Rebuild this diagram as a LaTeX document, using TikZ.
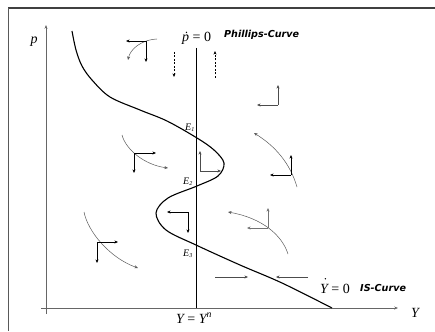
\documentclass[tikz,border=0pt]{standalone}
\usepackage{fontspec}
\setmainfont{Liberation Serif}
\newfontfamily\verd{DejaVu Sans}
\usetikzlibrary{arrows.meta}
\begin{document}
\begin{tikzpicture}[x=1pt,y=-1pt,
  pa/.style={-{Stealth[length=3.6pt,width=3pt]}, line width=0.5pt},
  dpa/.style={pa, dashed, dash pattern=on 2pt off 1.5pt},
  arcline/.style={line width=0.45pt, draw=black!65},
  axis/.style={line width=0.7pt, draw=black!60, -{Stealth[length=3.8pt,width=3pt]}},
  lbl/.style={inner sep=0pt, anchor=base, font=\fontsize{14}{16}\selectfont},
  lblw/.style={lbl, anchor=base west},
  elbl/.style={inner sep=0pt, anchor=base west, font=\fontsize{10}{12}\selectfont\itshape},
  curvelbl/.style={inner sep=0pt, anchor=base west, font=\fontsize{9.6}{11}\selectfont\verd\bfseries\itshape}]
\useasboundingbox (0,0) rectangle (435,331);
% frame
\draw[line width=1.3pt, draw=black!75] (8,8) -- (435,8);
\draw[line width=0.8pt, draw=black!65] (8,8) -- (8,331);
% axes
\coordinate (po) at (46,314);
\coordinate (pt) at (46,25);
\coordinate (yo) at (41,308);
\coordinate (yt) at (398,308);
\draw[axis] (po) -- (pt);
\draw[axis] (yo) -- (yt);
\node[lbl] (plab) at (34,44) {\itshape p};
\node[lbl] (ylab) at (415,317) {\itshape Y};
% Phillips curve vertical line
\coordinate (vt) at (196,48);
\coordinate (vb) at (196,308);
\draw[line width=1pt] (vt) -- (vb);
\node[lblw] (pdot) at (182,42) {\itshape p\hspace{0.25em}\upshape=\hspace{0.25em}0};
\fill ([xshift=4.4pt,yshift=9.6pt]pdot.base west) circle (0.75pt);
\node[curvelbl] (phc) at (224,38) {Phillips-Curve};
\node[lbl] (yyn) at (194,323) {\itshape Y\hspace{0.25em}\upshape=\hspace{0.25em}\itshape Y\textsuperscript{n}};
\node[lblw] (ydot) at (320,293) {\itshape Y\hspace{0.25em}\upshape=\hspace{0.25em}0};
\fill ([xshift=5.3pt,yshift=14.2pt]ydot.base west) circle (0.75pt);
\node[curvelbl] (isc) at (360,291) {IS-Curve};
% IS curve
\draw[line width=1.1pt] plot[smooth, tension=0.55] coordinates {
 (72,31) (76,50) (82,66) (92,80) (110,97) (140,110) (167,121) (197,138)
 (214,150) (224,163) (218,176) (197,186) (168,198) (156,213) (166,230)
 (196,245) (240,265) (282,283) (332,308)};
\node[elbl] (e1) at (185,130) {E\textsubscript{\fontsize{6}{7}\selectfont 1}};
\node[elbl] (e2) at (183,184) {E\textsubscript{\fontsize{6}{7}\selectfont 2}};
\node[elbl] (e3) at (183,256) {E\textsubscript{\fontsize{6}{7}\selectfont 3}};
% phase arrows: upper left
\draw[arcline, pa] (157,39) .. controls (140,40) and (130,50) .. (128,60);
\coordinate (c1) at (146,41);
\draw[pa] (c1) -- (126,41);
\draw[pa] (c1) -- (146,62);
% dashed arrows
\draw[dpa] (174,52) -- (174,77);
\draw[dpa] (215,78) -- (215,51);
% upper right L
\coordinate (c4) at (278,105);
\draw[pa, draw=black!70] (c4) -- (278,85);
\draw[pa, draw=black!70] (c4) -- (257,105);
% right arc
\draw[arcline, pa] (297,187) .. controls (290,163) and (275,146) .. (254,133);
\coordinate (c5) at (291,175);
\draw[pa] (c5) -- (291,155);
\draw[pa] (c5) -- (270,175);
% left middle arc
\draw[arcline, pa] (122,135) .. controls (126,150) and (145,165) .. (168,168);
\coordinate (c6) at (134,153);
\draw[pa] (c6) -- (156,153);
\draw[pa] (c6) -- (134,173);
% inside right bulge
\coordinate (c7) at (200,171);
\draw[pa, draw=black!70] (c7) -- (200,151);
\draw[pa, draw=black!70] (c7) -- (221,171);
% inside left bulge
\coordinate (c8) at (188,212);
\draw[pa] (c8) -- (167,212);
\draw[pa] (c8) -- (188,233);
% right lower arc
\draw[arcline, pa] (288,254) .. controls (282,235) and (262,218) .. (228,212);
\coordinate (c9) at (268,228);
\draw[pa, draw=black!55] (c9) -- (268,208);
\draw[pa, draw=black!55] (c9) -- (247,228);
% lower left arc
\draw[arcline, pa] (84,212) .. controls (88,232) and (110,258) .. (138,268);
\coordinate (c10) at (97,242);
\draw[pa] (c10) -- (118,242);
\draw[pa] (c10) -- (97,263);
% bottom horizontal arrows
\draw[pa, draw=black!70] (215,277) -- (248,277);
\draw[pa, draw=black!70] (308,277) -- (276,277);
\end{tikzpicture}
\end{document}
